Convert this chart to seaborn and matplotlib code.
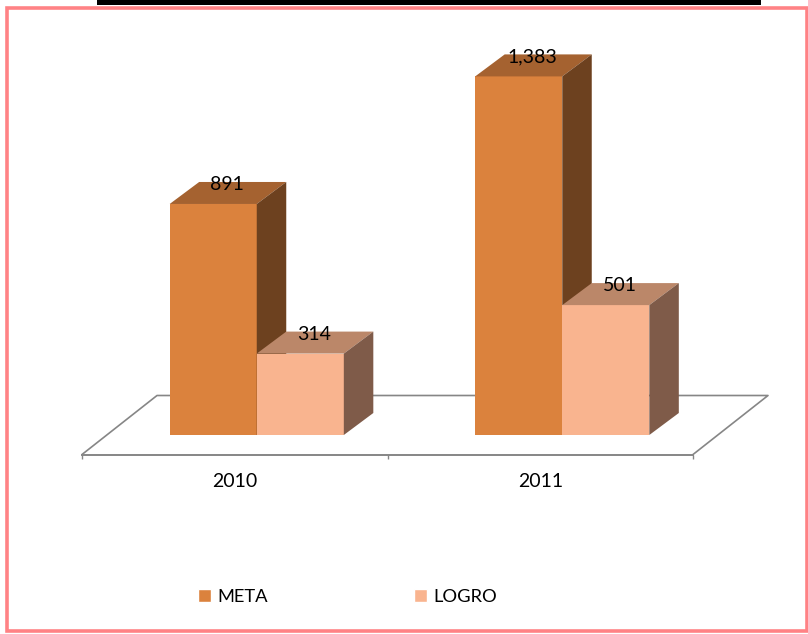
import pandas as pd
import matplotlib
matplotlib.use('Agg')
import matplotlib.pyplot as plt
from matplotlib.patches import Polygon, Rectangle
from matplotlib.transforms import Affine2D
import seaborn as sns

years = ['2010', '2011']
meta = [891, 1383]
logro = [314, 501]

front_colors = ['#DB823D', '#F9B48F']
top_colors = ['#A56230', '#BB8769']
side_colors = ['#6D411F', '#7F5B49']
line_color = '#868686'
frame_color = '#FF8285'

df = pd.DataFrame({
    'year': years * 2,
    'value': meta + logro,
    'serie': ['META'] * 2 + ['LOGRO'] * 2,
})

W, H = 808, 634
sns.set_theme(style='white')
plt.rcParams['font.family'] = ['Lato', 'DejaVu Sans']

fig = plt.figure(figsize=(W / 100, H / 100), dpi=100)
# axis line of the "floor" front edge, in pixels
ax = fig.add_axes([82 / W, (H - 454.5) / H, 611 / W, 363 / H])
ax.patch.set_visible(False)

sns.barplot(df, x='year', y='value', hue='serie', palette=front_colors, width=0.57,
            saturation=1, gap=0, ax=ax)
ax.set_xlim(-0.5, 1.5)
ax.set_ylim(0, 1400)

# pixels to data units
ux = 2 / 611
uy = 1400 / 363
shifted = ax.transData + Affine2D().translate(22, 19.5)
dx, dy = 29.5 * ux, 22 * uy

# floor
floor_dx, floor_dy = 75 * ux, 59 * uy
ax.plot([-0.5, -0.5 + floor_dx, 1.5 + floor_dx, 1.5], [0, floor_dy, floor_dy, 0],
        color=line_color, lw=1.2, clip_on=False, zorder=1)

for i, container in enumerate(ax.containers):
    for bar in container:
        x0, x1, h = bar.get_x(), bar.get_x() + bar.get_width(), bar.get_height()
        bar.set_transform(shifted)
        bar.set_clip_on(False)
        bar.set_edgecolor('none')
        bar.set_zorder(2 + i)
        ax.add_patch(Polygon([(x0, h), (x1, h), (x1 + dx, h + dy), (x0 + dx, h + dy)],
                             closed=True, fc=top_colors[i], ec='none', transform=shifted,
                             clip_on=False, zorder=2 + i))
        ax.add_patch(Polygon([(x1, 0), (x1 + dx, dy), (x1 + dx, h + dy), (x1, h)],
                             closed=True, fc=side_colors[i], ec='none', transform=shifted,
                             clip_on=False, zorder=2 + i))
        ax.text((x0 + x1) / 2 + dx / 2 - 1 * ux, h + 19.5 * uy, f'{int(h):,}', transform=shifted,
                ha='center', va='center', fontsize=14, color='black', clip_on=False, zorder=10)

sns.despine(ax=ax, left=True)
ax.spines['bottom'].set_color(line_color)
ax.spines['bottom'].set_linewidth(1.4)
ax.set_xlabel('')
ax.set_ylabel('')
ax.set_yticks([])
ax.set_xticks([0, 1], years)
ax.set_xticks([-0.5, 0.5, 1.5], minor=True)
ax.tick_params(axis='x', which='major', length=0, pad=13, labelsize=14, labelcolor='black')
ax.tick_params(axis='x', which='minor', bottom=True, length=3, width=1, color=line_color)

sns.move_legend(ax, 'center left', bbox_to_anchor=(197.5 / W, 1 - 596.5 / H),
                bbox_transform=fig.transFigure, ncol=2, frameon=False, title=None,
                fontsize=13.2, labelcolor='black', handlelength=0.72, handleheight=0.72,
                handletextpad=0.34, columnspacing=8.0, borderpad=0, borderaxespad=0)

# outer frame and the black strip above it
fig.add_artist(Rectangle((7 / W, 1 - 631 / H), 799.5 / W, 623 / H, transform=fig.transFigure,
                         fc='none', ec=frame_color, lw=2.6))
fig.add_artist(Rectangle((97 / W, 1 - 5 / H), 664 / W, 5 / H, transform=fig.transFigure,
                         fc='black', ec='none'))

fig.savefig('out.png', dpi=100)
